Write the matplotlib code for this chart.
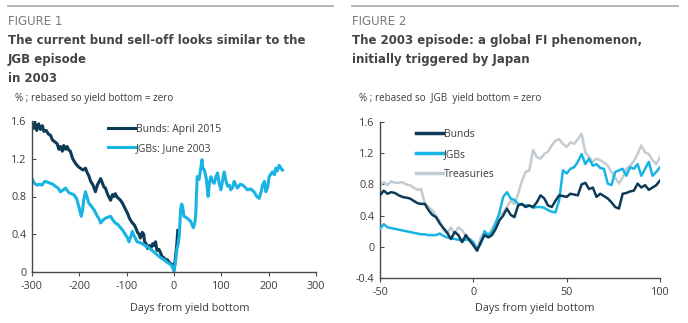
import matplotlib
matplotlib.use("Agg")
import matplotlib.pyplot as plt
from matplotlib.lines import Line2D

# ---------------- data: Figure 1 ----------------
f1_bund_days = [-300, -297, -294, -290, -286, -282, -278, -275, -270, -265, -261, -257, -252, -247,
                -243, -240, -236, -233, -229, -226, -222, -219, -214, -208, -203, -198, -192, -187,
                -184, -180, -176, -171, -166, -162, -158, -155, -151, -148, -145, -140, -136, -134,
                -130, -127, -124, -120, -117, -113, -109, -106, -102, -98, -95, -92, -88, -84, -81,
                -77, -74, -71, -67, -64, -62, -59, -56, -52, -48, -45, -42, -39, -36, -32, -28, -25,
                -21, -17, -14, -10, -7, -4, -2, 0, 3, 6, 8]
f1_bund_vals = [1.56, 1.52, 1.58, 1.50, 1.57, 1.51, 1.55, 1.49, 1.50, 1.46, 1.45, 1.40, 1.38, 1.36,
                1.30, 1.33, 1.28, 1.34, 1.30, 1.33, 1.29, 1.28, 1.20, 1.15, 1.12, 1.10, 1.08, 1.10,
                1.06, 1.02, 0.96, 0.92, 0.85, 0.92, 0.96, 0.99, 0.94, 0.90, 0.89, 0.82, 0.78, 0.76,
                0.82, 0.80, 0.83, 0.79, 0.78, 0.76, 0.73, 0.70, 0.66, 0.62, 0.58, 0.55, 0.52, 0.50, 0.47,
                0.42, 0.40, 0.36, 0.42, 0.40, 0.32, 0.30, 0.25, 0.28, 0.26, 0.30, 0.28, 0.32, 0.23, 0.24,
                0.20, 0.16, 0.15, 0.12, 0.13, 0.10, 0.09, 0.08, 0.05, 0.02, 0.15, 0.30, 0.44]

f1_jgb_days = [-300, -295, -289, -284, -279, -275, -272, -266, -261, -256, -251, -245, -240, -234,
               -229, -225, -222, -217, -212, -206, -201, -196, -193, -191, -187, -184, -180, -175,
               -169, -165, -162, -158, -155, -150, -145, -140, -134, -129, -124, -118, -113, -108,
               -102, -98, -95, -91, -88, -84, -78, -71, -64, -57, -49, -42, -35, -28, -21, -14, -7,
               -3, 0, 3, 6, 9, 11, 14, 16, 18, 21, 25, 28, 32, 35, 38, 41, 44, 46, 49, 53, 56, 59,
               61, 64, 68, 72, 75, 78, 81, 85, 88, 92, 95, 99, 103, 106, 110, 113, 117, 120, 124,
               127, 131, 134, 140, 145, 150, 155, 162, 169, 175, 180,
               184, 187, 191, 194, 198, 201, 205, 208, 212, 215, 218, 222, 226, 229]
f1_jgb_vals = [0.99, 0.94, 0.92, 0.93, 0.92, 0.95, 0.96, 0.95, 0.94, 0.93, 0.91, 0.89, 0.85, 0.87,
               0.89, 0.86, 0.84, 0.83, 0.82, 0.78, 0.69, 0.59, 0.66, 0.76, 0.85, 0.80, 0.73, 0.70,
               0.66, 0.62, 0.59, 0.56, 0.52, 0.55, 0.57, 0.58, 0.59, 0.55, 0.52, 0.50, 0.47, 0.44,
               0.39, 0.36, 0.32, 0.38, 0.43, 0.38, 0.32, 0.31, 0.29, 0.27, 0.24, 0.21, 0.18, 0.15, 0.13, 0.10, 0.08,
               0.05, 0.01, 0.10, 0.24, 0.30, 0.38, 0.66, 0.72, 0.70, 0.59, 0.58, 0.57, 0.55, 0.54, 0.50, 0.47, 0.52,
               0.62, 1.01, 0.98, 1.08, 1.19,
               1.10, 1.08, 1.00, 0.80, 0.95, 1.01, 0.96, 0.94, 1.00, 1.05, 0.95, 0.87, 0.98, 1.06,
               0.96, 0.91, 0.92, 0.87, 0.90,
               0.96, 0.92, 0.89, 0.93, 0.92, 0.90, 0.87, 0.88, 0.85, 0.80, 0.78,
               0.85, 0.92, 0.96, 0.85, 0.90, 1.01, 1.04, 1.06, 1.03, 1.10, 1.07, 1.13, 1.10, 1.08]

# ---------------- data: Figure 2 ----------------
f2_days = [-50, -48, -46, -44, -42, -40, -38, -36, -34, -32, -30, -28, -26, -24, -22, -20, -18, -16,
           -14, -12, -10, -8, -6, -4, -2, 0, 2, 4, 6, 8, 10, 12, 14, 16, 18, 20, 22, 24, 26, 28, 30,
           32, 34, 36, 38, 40, 42, 44, 46, 48, 50, 52, 54, 56, 58, 60, 62, 64, 66, 68, 70, 72, 74,
           76, 78, 80, 82, 84, 86, 88, 90, 92, 94, 96, 98, 100]
f2_bunds = [0.66, 0.72, 0.68, 0.70, 0.69, 0.66, 0.64, 0.63, 0.62, 0.59, 0.56, 0.55, 0.55, 0.47, 0.41,
            0.38, 0.30, 0.24, 0.18, 0.10, 0.19, 0.15, 0.06, 0.15, 0.08, 0.02, -0.05, 0.06, 0.15, 0.12,
            0.15, 0.23, 0.34, 0.40, 0.49, 0.41, 0.38, 0.53, 0.55, 0.51, 0.53, 0.51, 0.57, 0.66, 0.62,
            0.53, 0.51, 0.59, 0.66, 0.65, 0.64, 0.68, 0.67, 0.66, 0.80, 0.82, 0.74, 0.76, 0.64, 0.68,
            0.65, 0.62, 0.57, 0.51, 0.49, 0.68, 0.69, 0.71, 0.72, 0.81, 0.76, 0.79, 0.73, 0.76, 0.79, 0.85]
f2_jgbs = [0.23, 0.29, 0.25, 0.24, 0.23, 0.22, 0.21, 0.20, 0.19, 0.18, 0.17, 0.16, 0.16, 0.15, 0.15,
           0.15, 0.17, 0.14, 0.12, 0.11, 0.10, 0.09, 0.08, 0.09, 0.10, 0.06, -0.03, 0.04, 0.20, 0.15,
           0.19, 0.30, 0.44, 0.64, 0.70, 0.62, 0.60, 0.55, 0.54, 0.53, 0.53, 0.50, 0.51, 0.51, 0.50,
           0.47, 0.45, 0.44, 0.60, 0.98, 0.94, 1.00, 1.02, 1.09, 1.19, 1.06, 1.13, 1.04, 1.06, 1.01,
           1.00, 0.81, 0.79, 0.96, 0.98, 1.00, 0.91, 1.02, 1.00, 1.06, 0.91, 1.00, 1.09, 0.91, 0.96, 1.02]
f2_treas = [0.79, 0.83, 0.79, 0.84, 0.82, 0.82, 0.83, 0.80, 0.79, 0.76, 0.73, 0.74, 0.56, 0.51, 0.47,
            0.40, 0.33, 0.21, 0.17, 0.25, 0.17, 0.25, 0.21, 0.14, 0.08, 0.04, -0.05, 0.12, 0.19, 0.15,
            0.23, 0.32, 0.40, 0.44, 0.51, 0.59, 0.55, 0.68, 0.84, 0.96, 0.98, 1.24, 1.15, 1.13, 1.19,
            1.22, 1.30, 1.36, 1.38, 1.32, 1.28, 1.34, 1.32, 1.38, 1.45, 1.21, 1.15, 1.09, 1.13, 1.11,
            1.08, 1.04, 0.96, 0.89, 0.81, 0.89, 1.00, 1.04, 1.10, 1.19, 1.30, 1.21, 1.19, 1.11, 1.06, 1.15]

f1_xticks = [-300, -200, -100, 0, 100, 200, 300]
f1_yticks = [0, 0.4, 0.8, 1.2, 1.6]
f2_xticks = [-50, 0, 50, 100]
f2_yticks = [-0.4, 0, 0.4, 0.8, 1.2, 1.6]

DARK = "#0d3a57"
LIGHT = "#17b4e4"
GREY = "#c3ccd2"
TXT = "#3d3d3d"
LFONT = ["Open Sans", "DejaVu Sans"]

W, H = 688, 323
fig = plt.figure(figsize=(W / 100, H / 100), dpi=100)
fig.patch.set_facecolor("white")


def fx(px):
    return px / W


def fy(py):
    return 1 - py / H


def fmt(v):
    if v == 0:
        return "0"
    if float(v).is_integer():
        return "%d" % v
    return ("%.1f" % v)


def style_axes(ax, xticks, yticks):
    for s in ["top", "right"]:
        ax.spines[s].set_visible(False)
    for s in ["left", "bottom"]:
        ax.spines[s].set_color("#4a4a4a")
        ax.spines[s].set_linewidth(1.0)
    ax.set_xticks(xticks)
    ax.set_yticks(yticks)
    ax.set_xticklabels([fmt(v) for v in xticks], family=LFONT, fontsize=7.8, color=TXT)
    ax.set_yticklabels([fmt(v) for v in yticks], family=LFONT, fontsize=7.8, color=TXT)
    ax.tick_params(axis="x", direction="out", length=3, width=0.8, color="#4a4a4a", pad=3.5)
    ax.tick_params(axis="y", direction="in", length=3, width=0.8, color="#4a4a4a", pad=4)


# ---------------- header texts ----------------
for x0, x1 in [(8, 333), (352, 678)]:
    fig.add_artist(Line2D([fx(x0), fx(x1)], [fy(6), fy(6)], color="#b0b0b0", lw=1.3))

fig.text(fx(8), fy(25), "FIGURE 1", fontsize=8.5, color="#7a7a7a", family="DejaVu Sans", va="baseline")
fig.text(fx(352), fy(25), "FIGURE 2", fontsize=8.5, color="#7a7a7a", family="DejaVu Sans", va="baseline")

tkw = dict(fontsize=8.45, color="#444444", fontweight="bold", family="DejaVu Sans", va="baseline")
fig.text(fx(8), fy(44), "The current bund sell-off looks similar to the", **tkw)
fig.text(fx(8), fy(63), "JGB episode", **tkw)
fig.text(fx(8), fy(82), "in 2003", **tkw)
fig.text(fx(352), fy(44), "The 2003 episode: a global FI phenomenon,", **tkw)
fig.text(fx(352), fy(63), "initially triggered by Japan", **tkw)

skw = dict(fontsize=7.1, color=TXT, family=LFONT, va="center")
fig.text(fx(15), fy(99), "% ; rebased so yield bottom = zero", **skw)
fig.text(fx(359), fy(99), "% ; rebased so  JGB  yield bottom = zero", **skw)

# ---------------- Figure 1 ----------------
ax1 = fig.add_axes([fx(32), fy(272), (316 - 32) / W, (272 - 121) / H])
ax1.plot(f1_bund_days, f1_bund_vals, color=DARK, lw=2.2, solid_joinstyle="round", label="Bunds: April 2015")
ax1.plot(f1_jgb_days, f1_jgb_vals, color=LIGHT, lw=2.2, solid_joinstyle="round", label="JGBs: June 2003")
ax1.set_xlim(-300, 300)
ax1.set_ylim(0, 1.6)
style_axes(ax1, f1_xticks, f1_yticks)
leg1 = ax1.legend(loc="upper left", bbox_to_anchor=((108 - 32) / 284, 1.0 - (121 - 118) / 151),
                  frameon=False, prop={"family": LFONT, "size": 7.5}, handlelength=2.6,
                  handletextpad=0.1, labelspacing=0.75, borderaxespad=0, borderpad=0)
for t in leg1.get_texts():
    t.set_color(TXT)
fig.text(fx(190), fy(309), "Days from yield bottom", fontsize=7.8, color=TXT, family=LFONT,
         ha="center", va="center")

# ---------------- Figure 2 ----------------
ax2 = fig.add_axes([fx(380), fy(278), (660 - 380) / W, (278 - 122) / H])
ax2.plot(f2_days, f2_treas, color=GREY, lw=1.8, solid_joinstyle="round", label="Treasuries", zorder=2)
ax2.plot(f2_days, f2_jgbs, color=LIGHT, lw=1.8, solid_joinstyle="round", label="JGBs", zorder=3)
ax2.plot(f2_days, f2_bunds, color=DARK, lw=1.8, solid_joinstyle="round", label="Bunds", zorder=4)
ax2.set_xlim(-50, 100)
ax2.set_ylim(-0.4, 1.6)
style_axes(ax2, f2_xticks, f2_yticks)
h, l = ax2.get_legend_handles_labels()
order = [2, 1, 0]
leg2 = ax2.legend([h[i] for i in order], [l[i] for i in order], loc="upper left",
                  bbox_to_anchor=((416 - 380) / 280, 1.0 - (129 - 122) / 156),
                  frameon=False, prop={"family": LFONT, "size": 7.5}, handlelength=2.6,
                  handletextpad=0.1, labelspacing=0.85, borderaxespad=0, borderpad=0)
for t in leg2.get_texts():
    t.set_color(TXT)
for lh in leg2.get_lines():
    lh.set_linewidth(2.5)
fig.text(fx(535), fy(308), "Days from yield bottom", fontsize=7.8, color=TXT, family=LFONT,
         ha="center", va="center")

fig.savefig("out.png", dpi=100, facecolor="white")
